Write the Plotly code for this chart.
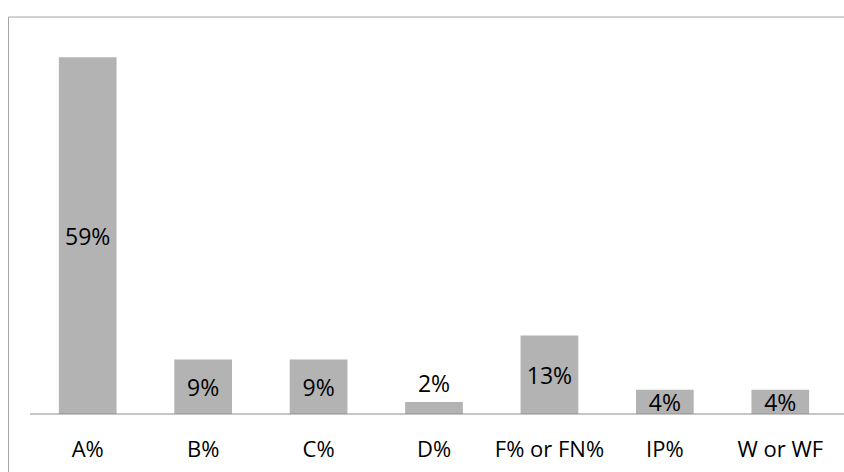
import plotly.graph_objects as go

# Grade distribution shares
categories = ["A%", "B%", "C%", "D%", "F% or FN%", "IP%", "W or WF"]
shares = [59, 9, 9, 2, 13, 4, 4]
label_positions = ["inside", "inside", "inside", "outside", "inside", "inside", "inside"]

W, H = 844, 472
ML, MR, MT, MB = 30, 6, 21, 58
plot_w = W - ML - MR
plot_h = H - MT - MB

fig = go.Figure(
    go.Bar(
        x=categories,
        y=shares,
        width=0.5,
        marker=dict(color="#b3b3b3", line=dict(width=0)),
        text=[f"{v}%" for v in shares],
        textposition=label_positions,
        textangle=0,
        insidetextanchor="middle",
        textfont=dict(family="Open Sans", size=23, color="#000000"),
        cliponaxis=False,
        hoverinfo="skip",
    )
)

def px_x(p):
    return (p - ML) / plot_w

def px_y(p):
    return (H - MB - p) / plot_h

fig.update_layout(
    width=W,
    height=H,
    margin=dict(l=ML, r=MR, t=MT, b=MB),
    paper_bgcolor="white",
    plot_bgcolor="white",
    showlegend=False,
    bargap=0.5,
    uniformtext=dict(minsize=23, mode="show"),
    xaxis=dict(
        showline=False,
        showgrid=False,
        ticks="",
        tickfont=dict(family="Open Sans", size=22, color="#000000"),
        ticklabelstandoff=20,
    ),
    yaxis=dict(
        range=[0, 65],
        visible=False,
        showgrid=False,
        zeroline=False,
    ),
    shapes=[
        # baseline of the category axis
        dict(type="line", xref="paper", yref="paper",
             x0=0, x1=px_x(W + 2), y0=0, y1=0,
             line=dict(color="#8c8c8c", width=1)),
        # chart frame (left and top edges)
        dict(type="line", xref="paper", yref="paper",
             x0=px_x(8.5), x1=px_x(8.5), y0=px_y(17), y1=px_y(H + 5),
             line=dict(color="#a6a6a6", width=1)),
        dict(type="line", xref="paper", yref="paper",
             x0=px_x(8.5), x1=px_x(W + 5), y0=px_y(17), y1=px_y(17),
             line=dict(color="#a6a6a6", width=1)),
    ],
)

fig.write_html("out.html")
